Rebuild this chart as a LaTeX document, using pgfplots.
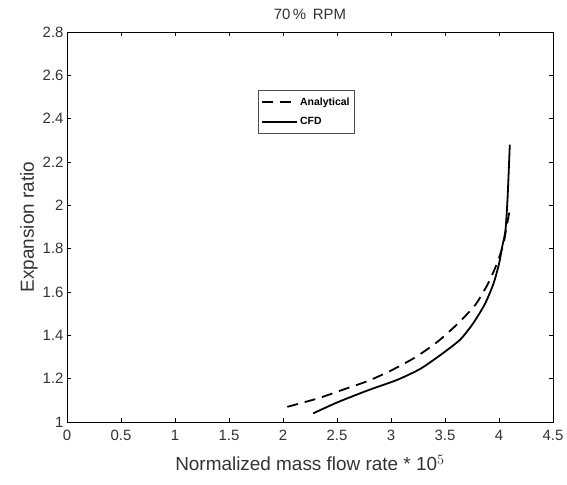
\documentclass[border=0pt]{standalone}
\usepackage{fontspec}
\setmainfont{Liberation Sans}
\usepackage{pgfplots}
\pgfplotsset{compat=1.18}
\begin{document}
\begin{tikzpicture}
\begin{axis}[
  name=ax,
  scale only axis, width=486bp, height=390bp,
  xmin=0, xmax=4.5, ymin=1, ymax=2.8,
  xtick={0,0.5,1,1.5,2,2.5,3,3.5,4,4.5},
  ytick={1,1.2,1.4,1.6,1.8,2,2.2,2.4,2.6,2.8},
  tick align=inside, major tick length=4bp,
  tick style={black, line width=0.5bp},
  axis line style={black, line width=0.9bp},
  /pgf/number format/assume math mode=true,
  ticklabel style={font=\fontsize{15}{15}\selectfont, text=black!80},
  xticklabel style={yshift=-5bp},
  title={70\,\% \,RPM},
  title style={font=\fontsize{15}{15}\selectfont, text=black!80, yshift=3bp},
  xlabel={Normalized mass flow rate * 10$^{5}$},
  ylabel={Expansion ratio},
  label style={font=\fontsize{19}{19}\selectfont, text=black!80},
  xlabel style={yshift=-7bp},
  ylabel style={yshift=-2bp},
  legend cell align=left,
  legend style={at={(0.393,0.851)}, anchor=north west, draw=black!70, line width=0.8bp,
    font=\fontsize{10.5}{11}\selectfont\bfseries, inner xsep=3bp, inner ysep=5bp, row sep=7bp},
  legend image code/.code={\draw[#1] (0bp,0bp) -- (35bp,0bp);},
]
\addplot[black, line width=1.8bp, dash pattern=on 11bp off 7bp, smooth, tension=0.4] coordinates {
(2.04,1.07) (2.33,1.11) (2.56,1.15) (2.79,1.19) (3.01,1.24) (3.23,1.30) (3.43,1.37)
(3.61,1.45) (3.78,1.54) (3.90,1.64) (3.98,1.73) (4.04,1.82) (4.07,1.90) (4.10,1.98)
};
\addlegendentry{Analytical}
\addplot[black, line width=1.8bp, smooth, tension=0.4] coordinates {
(2.28,1.04) (2.50,1.09) (2.78,1.145) (3.06,1.195) (3.27,1.245) (3.46,1.31) (3.64,1.38)
(3.76,1.455) (3.87,1.545) (3.95,1.64) (4.00,1.73) (4.03,1.81) (4.06,1.885) (4.08,2.04) (4.10,2.28)
};
\addlegendentry{CFD}
\end{axis}
\pgfresetboundingbox
\path[use as bounding box] ([shift={(-67bp,-63bp)}]ax.south west) rectangle ([shift={(14bp,32bp)}]ax.north east);
\end{tikzpicture}
\end{document}
